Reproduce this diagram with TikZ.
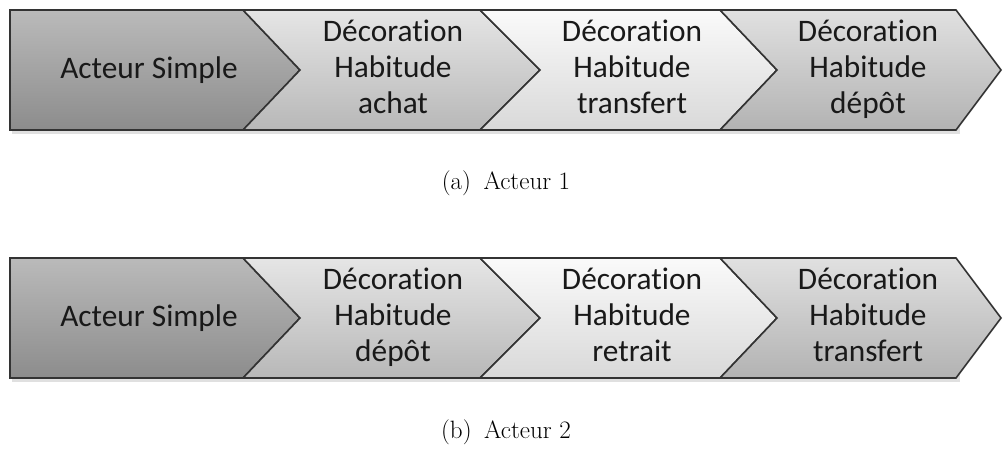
\documentclass[tikz,border=0pt]{standalone}
\usepackage{fontspec}
\setmainfont{Latin Modern Roman}
\newfontfamily\boxfont[Ligatures=NoCommon]{Carlito}
\begin{document}
\begin{tikzpicture}[x=0.75pt,y=-0.75pt,
  chev/.style={draw=black!80,line width=1.2pt,line join=miter},
  c1/.style={chev,top color=black!27,bottom color=black!45},
  c2/.style={chev,top color=black!10,bottom color=black!28},
  c3/.style={chev,top color=black!2,bottom color=black!15},
  c4/.style={chev,top color=black!12,bottom color=black!30},
  lbl/.style={font=\boxfont\fontsize{23.5}{27}\selectfont,align=center,text=black!90},
  captext/.style={font=\fontsize{18.8}{22}\selectfont}]
\useasboundingbox (0,0) rectangle (1003,450);
\foreach \r/\a/\b/\m in {1/10/130/70,2/258/378/318}{
  \fill[black!12] (12,\a+3) rectangle (960,\b+4);
  \path[c1] (10,\a) -- (243,\a) -- (300,\m) -- (243,\b) -- (10,\b) -- cycle;
  \path[c2] (243,\a) -- (480,\a) -- (540,\m) -- (480,\b) -- (243,\b) -- (300,\m) -- cycle;
  \path[c3] (480,\a) -- (720,\a) -- (777,\m) -- (720,\b) -- (480,\b) -- (540,\m) -- cycle;
  \path[c4] (720,\a) -- (956,\a) -- (1001,\m) -- (956,\b) -- (720,\b) -- (777,\m) -- cycle;
}
\node[lbl] (a1) at (149,70) {Acteur Simple};
\node[lbl] (a2) at (393,70) {\strut Décoration\\Habitude\\achat\strut};
\node[lbl] (a3) at (632,70) {\strut Décoration\\Habitude\\transfert\strut};
\node[lbl] (a4) at (868,70) {\strut Décoration\\Habitude\\dépôt\strut};
\node[captext] (ca) at (506,183) {(a)\hspace{0.5em}Acteur 1};
\node[lbl] (b1) at (149,318) {Acteur Simple};
\node[lbl] (b2) at (393,318) {\strut Décoration\\Habitude\\dépôt\strut};
\node[lbl] (b3) at (632,318) {\strut Décoration\\Habitude\\retrait\strut};
\node[lbl] (b4) at (868,318) {\strut Décoration\\Habitude\\transfert\strut};
\node[captext] (cb) at (506,432) {(b)\hspace{0.5em}Acteur 2};
\end{tikzpicture}
\end{document}
